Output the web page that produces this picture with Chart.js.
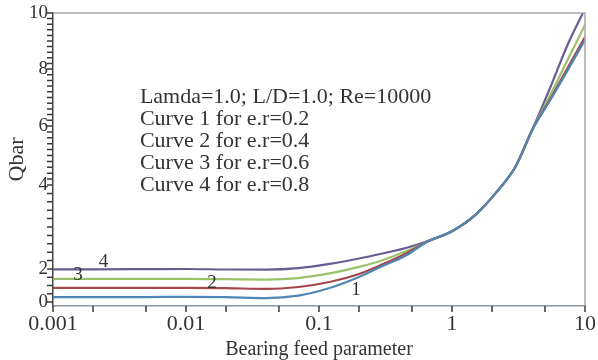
<!DOCTYPE html>
<html>
<head>
<meta charset="utf-8">
<script src="https://cdn.jsdelivr.net/npm/chart.js@4.4.1/dist/chart.umd.min.js"></script>
<style>
    html, body { margin: 0; padding: 0; background: #fff; }
    #wrap { width: 598px; height: 360px; }
</style>
</head>
<body>
<div id="wrap"><canvas id="qbarChart"></canvas></div>
<script>
// ===== DATA ===== //
const feedParam = [0.001, 0.002, 0.005, 0.01, 0.02, 0.04, 0.07, 0.12, 0.2, 0.3, 0.45, 0.65, 1, 1.5, 2.2, 3, 4, 5.5, 7.5, 10];
const curve1 = [0.30, 0.30, 0.30, 0.31, 0.29, 0.24, 0.39, 0.85, 1.52, 2.07, 2.32, 2.65, 2.90, 3.29, 3.86, 4.62, 5.86, 6.92, 8.00, 9.04];
const curve2 = [0.85, 0.85, 0.85, 0.86, 0.84, 0.79, 0.91, 1.21, 1.70, 2.11, 2.37, 2.65, 2.90, 3.29, 3.86, 4.62, 5.86, 6.96, 8.09, 9.14];
const curve3 = [1.40, 1.40, 1.40, 1.40, 1.38, 1.36, 1.45, 1.73, 2.05, 2.21, 2.42, 2.65, 2.90, 3.29, 3.86, 4.62, 5.86, 7.10, 8.38, 9.57];
const curve4 = [1.98, 1.98, 1.99, 2.00, 1.97, 1.96, 2.02, 2.12, 2.25, 2.37, 2.50, 2.66, 2.90, 3.29, 3.86, 4.62, 5.86, 7.37, 8.93, 10.15];

const curveNames = ['1', '2', '3', '4'];
const curveLabelX = [0.19, 0.0157, 0.00154, 0.0024];
const curveLabelY = [0.7, 1.15, 1.64, 2.17];

const xTickValues = [0.001, 0.002, 0.005, 0.01, 0.02, 0.05, 0.1, 0.2, 0.5, 1, 2, 5, 10];
const yTickLabels = [0, 2, 4, 6, 8, 10];

const noteLines = [
    'Lamda=1.0; L/D=1.0; Re=10000',
    'Curve 1 for e.r=0.2',
    'Curve 2 for e.r=0.4',
    'Curve 3 for e.r=0.6',
    'Curve 4 for e.r=0.8'
];
const noteAt = { x: 0.0045, y: 7.02 };

// ===== STYLE ===== //
const curveColors = ['#4f86b3', '#a4464c', '#9cc06a', '#675d93'];
const SERIF = "'Liberation Serif', 'DejaVu Serif', serif";
const TEXT = '#333';
const TICK_LEN = 6;

// ===== BROKEN Y SCALE (0-2 squeezed like the original) ===== //
const yKnotValues = [-0.25, 0, 2, 4, 6, 8, 10];
const yKnotFracs  = [0, 0.0137, 0.1263, 0.413, 0.6143, 0.8089, 1];

function toFrac(v) {
    for (let i = 1; i < yKnotValues.length; i++) {
        if (v <= yKnotValues[i] || i === yKnotValues.length - 1) {
            const t = (v - yKnotValues[i - 1]) / (yKnotValues[i] - yKnotValues[i - 1]);
            return yKnotFracs[i - 1] + t * (yKnotFracs[i] - yKnotFracs[i - 1]);
        }
    }
}
function fromFrac(f) {
    for (let i = 1; i < yKnotFracs.length; i++) {
        if (f <= yKnotFracs[i] || i === yKnotFracs.length - 1) {
            const t = (f - yKnotFracs[i - 1]) / (yKnotFracs[i] - yKnotFracs[i - 1]);
            return yKnotValues[i - 1] + t * (yKnotValues[i] - yKnotValues[i - 1]);
        }
    }
}

class BrokenScale extends Chart.LinearScale {
    getPixelForValue(value) {
        if (value === null || value === undefined) return NaN;
        return this.getPixelForDecimal(toFrac(value));
    }
    getValueForPixel(pixel) {
        return fromFrac(this.getDecimalForPixel(pixel));
    }
}
BrokenScale.id = 'broken';
BrokenScale.defaults = Chart.LinearScale.defaults;
Chart.register(BrokenScale);

// ===== PLUGINS ===== //
const frameAndText = {
    id: 'frameAndText',
    afterDraw(chart) {
        const { ctx, chartArea, scales } = chart;
        ctx.save();
        // top + right frame
        ctx.strokeStyle = '#a8a8a8';
        ctx.lineWidth = 1.5;
        ctx.beginPath();
        ctx.moveTo(chartArea.left, chartArea.top);
        ctx.lineTo(chartArea.right, chartArea.top);
        ctx.lineTo(chartArea.right, chartArea.bottom);
        ctx.stroke();

        // tick marks (outside the axes)
        ctx.strokeStyle = '#3a3a3a';
        ctx.lineWidth = 1.5;
        ctx.beginPath();
        scales.x.ticks.forEach(t => {
            const px = scales.x.getPixelForValue(t.value);
            ctx.moveTo(px, chartArea.bottom);
            ctx.lineTo(px, chartArea.bottom + TICK_LEN);
        });
        scales.y.ticks.forEach(t => {
            const py = scales.y.getPixelForValue(t.value);
            ctx.moveTo(chartArea.left, py);
            ctx.lineTo(chartArea.left - TICK_LEN, py);
        });
        ctx.stroke();

        // curve numbers
        ctx.fillStyle = TEXT;
        ctx.font = '19px ' + SERIF;
        ctx.textAlign = 'center';
        ctx.textBaseline = 'middle';
        curveNames.forEach((name, i) => {
            ctx.fillText(name, scales.x.getPixelForValue(curveLabelX[i]), scales.y.getPixelForValue(curveLabelY[i]));
        });

        // parameter note
        ctx.font = '22px ' + SERIF;
        ctx.textAlign = 'left';
        const nx = scales.x.getPixelForValue(noteAt.x);
        const ny = scales.y.getPixelForValue(noteAt.y);
        noteLines.forEach((line, i) => ctx.fillText(line, nx, ny + i * 22));
        ctx.restore();
    }
};

// ===== CHART ===== //
const allCurves = [curve1, curve2, curve3, curve4];

new Chart(document.getElementById('qbarChart'), {
    type: 'line',
    data: {
        datasets: allCurves.map((vals, i) => ({
            label: 'Curve ' + curveNames[i],
            data: vals.map((v, j) => ({ x: feedParam[j], y: v })),
            borderColor: curveColors[i],
            borderWidth: 2.2,
            pointRadius: 0,
            cubicInterpolationMode: 'monotone',
            fill: false
        }))
    },
    options: {
        responsive: true,
        maintainAspectRatio: false,
        animation: false,
        layout: { padding: { top: 13, right: 13, left: 0, bottom: 0 } },
        plugins: {
            legend: { display: false },
            tooltip: { enabled: false }
        },
        scales: {
            x: {
                type: 'logarithmic',
                min: 0.001,
                max: 10,
                afterBuildTicks: (scale) => {
                    scale.ticks = xTickValues.map(v => ({ value: v }));
                },
                afterFit: (scale) => { scale.height = 54; },
                ticks: {
                    autoSkip: false,
                    maxRotation: 0,
                    padding: 0,
                    color: TEXT,
                    font: { family: SERIF, size: 22 },
                    callback: (v) => {
                        const l = Math.log10(v);
                        return Math.abs(l - Math.round(l)) < 1e-9 ? String(v) : '';
                    }
                },
                grid: { drawOnChartArea: false, tickLength: 5, color: 'rgba(0,0,0,0)' },
                border: { color: '#8a96a6', width: 1.5 },
                title: {
                    display: true,
                    text: 'Bearing feed parameter',
                    color: TEXT,
                    font: { family: SERIF, size: 20, lineHeight: 1 },
                    padding: { top: 0, bottom: 0 }
                }
            },
            y: {
                type: 'broken',
                min: -0.25,
                max: 10,
                afterBuildTicks: (scale) => {
                    const ticks = [];
                    for (let k = 0; k <= 4; k++) ticks.push({ value: k * 0.5 });
                    for (let k = 11; k <= 50; k++) ticks.push({ value: k * 0.2 });
                    scale.ticks = ticks;
                },
                afterFit: (scale) => { scale.width = 53; },
                ticks: {
                    autoSkip: false,
                    padding: 0,
                    color: TEXT,
                    font: { family: SERIF, size: 19 },
                    callback: (v) => {
                        const r = Math.round(v);
                        return Math.abs(v - r) < 1e-6 && yTickLabels.includes(r) ? String(r) : '';
                    }
                },
                grid: { drawOnChartArea: false, tickLength: 5, color: 'rgba(0,0,0,0)' },
                border: { color: '#444', width: 1.5 },
                title: {
                    display: true,
                    text: 'Qbar',
                    color: TEXT,
                    font: { family: SERIF, size: 22 },
                    padding: { top: 4, bottom: 0 }
                }
            }
        }
    },
    plugins: [frameAndText]
});
</script>
</body>
</html>
